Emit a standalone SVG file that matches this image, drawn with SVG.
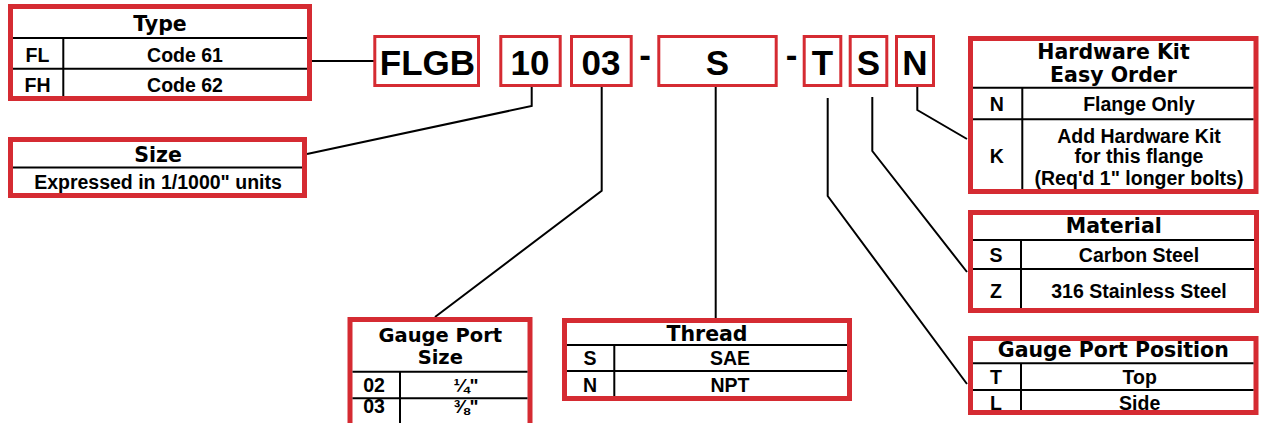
<svg xmlns="http://www.w3.org/2000/svg" width="1263" height="423" viewBox="0 0 1263 423">
<style>
.box{fill:#fff;stroke:#d52b32;stroke-width:5}
.code{fill:#fff;stroke:#d52b32;stroke-width:3}
.grid{stroke:#000;stroke-width:2;fill:none}
.con{stroke:#000;stroke-width:2;fill:none}
.h{font-family:"DejaVu Sans",sans-serif;font-weight:bold;font-size:20.5px;text-anchor:middle;fill:#000}
.hs{font-size:19.5px}
.t{font-family:"Liberation Sans",Arial,sans-serif;font-weight:bold;font-size:19.5px;text-anchor:middle;fill:#000}
.big{font-family:"Liberation Sans",Arial,sans-serif;font-weight:bold;font-size:35px;text-anchor:middle;fill:#000}
.fr{font-family:"Liberation Sans",Arial,sans-serif;font-weight:bold;font-size:19px;text-anchor:middle;fill:#000}
</style>
<rect width="1263" height="423" fill="#fff"/>
<g id="connectors">
<line class="con" x1="312" y1="61" x2="374" y2="61"/>
<polyline class="con" points="307,154 531.7,106 531.7,87"/>
<polyline class="con" points="601.7,87 601.7,190.7 435,317"/>
<line class="con" x1="715.7" y1="87" x2="715.7" y2="319"/>
<polyline class="con" points="827.7,98 827.7,196 967,384"/>
<polyline class="con" points="872.3,97 872.3,151 967,272"/>
<polyline class="con" points="917.3,87 917.3,110 967,139"/>
</g>
<g id="type">
<rect class="box" x="10.5" y="6.5" width="299" height="92"/>
<path class="grid" d="M13 38H307M13 68.7H307M63.3 38V96"/>
<text class="h" x="160" y="30.7">Type</text>
<text class="t" x="37.5" y="61.7">FL</text>
<text class="t" x="185" y="61.7">Code 61</text>
<text class="t" x="37.5" y="91.7">FH</text>
<text class="t" x="185" y="91.7">Code 62</text>
</g>
<g id="size">
<rect class="box" x="10.5" y="139.5" width="294" height="56"/>
<path class="grid" d="M13 167.5H302"/>
<text class="h" x="158" y="161.7">Size</text>
<text class="t" x="158" y="188.7">Expressed in 1/1000" units</text>
</g>
<g id="code-flgb"><rect class="code" x="374.8" y="36.5" width="103.7" height="49"/><text class="big" x="427.5" y="75">FLGB</text></g>
<g id="code-10"><rect class="code" x="500.8" y="36.5" width="59.4" height="49"/><text class="big" x="530" y="75">10</text></g>
<g id="code-03"><rect class="code" x="571.5" y="36.5" width="59.7" height="49"/><text class="big" x="601" y="75">03</text></g>
<g id="dash1"><text class="big" x="645" y="66.5">-</text></g>
<g id="code-s"><rect class="code" x="658.8" y="36.5" width="117.4" height="49"/><text class="big" x="717.5" y="75">S</text></g>
<g id="dash2"><text class="big" x="791.7" y="66.5">-</text></g>
<g id="code-t"><rect class="code" x="804.2" y="36.5" width="36.6" height="49"/><text class="big" x="822.5" y="75">T</text></g>
<g id="code-s2"><rect class="code" x="850.2" y="36.5" width="36.6" height="49"/><text class="big" x="868.5" y="75">S</text></g>
<g id="code-n"><rect class="code" x="896.5" y="36.5" width="37" height="49"/><text class="big" x="915" y="75">N</text></g>
<g id="hardware-kit">
<rect class="box" x="970.5" y="38.5" width="285.5" height="153"/>
<path class="grid" d="M973 87.7H1253.5M973 119.3H1253.5M1022.3 87.7V189"/>
<text class="h" x="1113.5" y="59.3">Hardware Kit</text>
<text class="h" x="1113.5" y="81.7">Easy Order</text>
<text class="t" x="996.7" y="111">N</text>
<text class="t" x="1139" y="111">Flange Only</text>
<text class="t" x="996.7" y="163.3">K</text>
<text class="t" x="1139" y="143.3">Add Hardware Kit</text>
<text class="t" x="1139" y="163.3">for this flange</text>
<text class="t" x="1139" y="185">(Req'd 1" longer bolts)</text>
</g>
<g id="material">
<rect class="box" x="970.5" y="212.5" width="286" height="98"/>
<path class="grid" d="M973 240H1254M973 269H1254M1021 240V308"/>
<text class="h" x="1113.8" y="233.3">Material</text>
<text class="t" x="996" y="262.3">S</text>
<text class="t" x="1139" y="262.3">Carbon Steel</text>
<text class="t" x="996" y="297.7">Z</text>
<text class="t" x="1139" y="297.7">316 Stainless Steel</text>
</g>
<g id="gauge-port-position">
<rect class="box" x="970.5" y="338.5" width="285.5" height="74"/>
<path class="grid" d="M973 363.3H1253.5M973 390H1253.5M1021 363.3V410"/>
<text class="h" x="1113.3" y="357.3">Gauge Port Position</text>
<text class="t" x="996" y="384">T</text>
<text class="t" x="1139.7" y="384">Top</text>
<text class="t" x="996" y="410">L</text>
<text class="t" x="1139.7" y="410">Side</text>
</g>
<g id="gauge-port-size">
<rect class="box" x="350" y="319.5" width="180" height="110"/>
<path class="grid" d="M352.5 371.7H527.5M352.5 398.3H527.5M400 371.7V423"/>
<text class="h hs" x="440.3" y="341.5">Gauge Port</text>
<text class="h hs" x="440.3" y="364">Size</text>
<text class="t" x="374" y="391.7">02</text>
<text class="fr" x="466" y="391.7">¼"</text>
<text class="t" x="374" y="413">03</text>
<text class="fr" x="466" y="413">⅜"</text>
</g>
<g id="thread">
<rect class="box" x="564.5" y="320.5" width="285" height="78"/>
<path class="grid" d="M567 345H847M567 371H847M614.3 345V396"/>
<text class="h" x="707" y="340.7">Thread</text>
<text class="t" x="590" y="365">S</text>
<text class="t" x="730" y="365">SAE</text>
<text class="t" x="590" y="391.7">N</text>
<text class="t" x="730" y="391.7">NPT</text>
</g>
</svg>
